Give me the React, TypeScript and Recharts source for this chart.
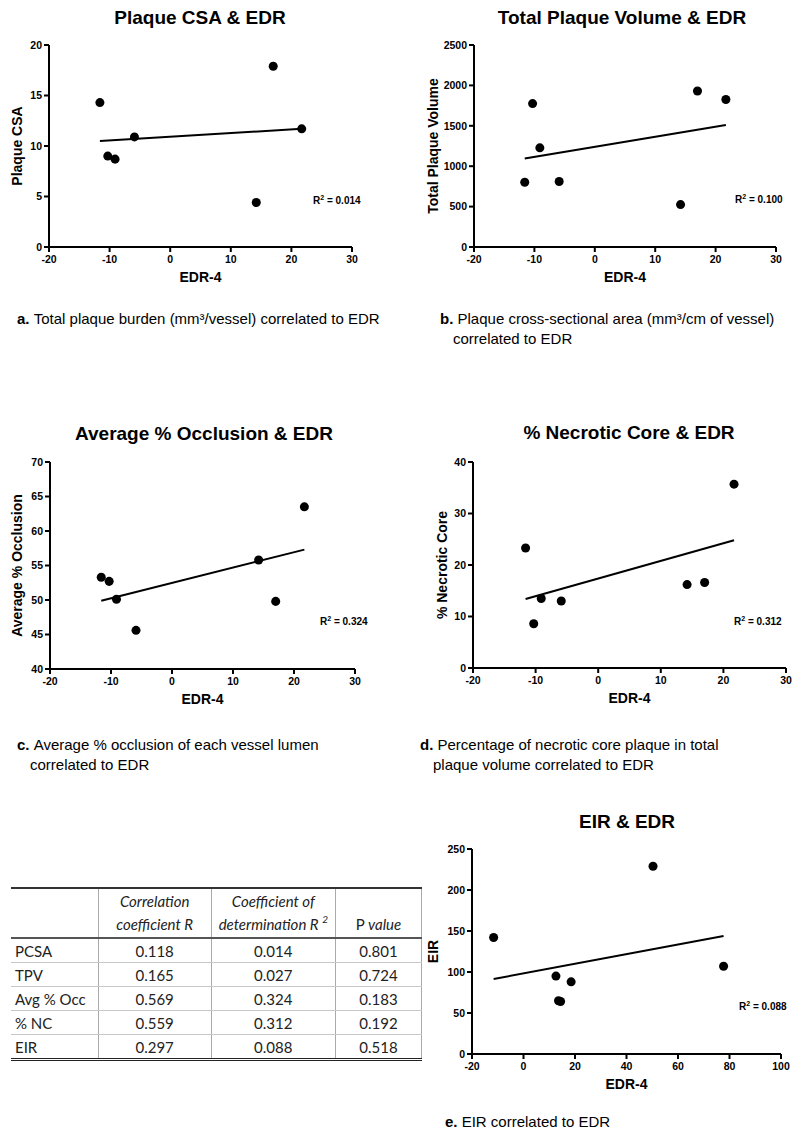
import { ScatterChart, Scatter, XAxis, YAxis } from 'recharts';

// EDR-4 values shared by panels a-d
const edr4 = [-11.6, -10.3, -9.1, -5.9, 14.2, 17.0, 21.7];
const plaqueCsa = [14.3, 9.0, 8.7, 10.9, 4.4, 17.9, 11.7];
const totalPlaqueVolume = [802, 1775, 1227, 810, 525, 1930, 1826];
const avgOcclusion = [53.3, 52.7, 50.1, 45.6, 55.8, 49.8, 63.5];
const necroticCore = [23.3, 8.6, 13.5, 13.0, 16.2, 16.6, 35.7];

// panel e has its own EDR-4 set
const edr4E = [-11.6, 12.6, 13.6, 14.4, 18.5, 50.3, 77.7];
const eir = [142, 95, 65, 64, 88, 229, 107];

// regression line end points (x, y)
const trendCsa = [[-11.6, 10.5], [21.7, 11.7]];
const trendTpv = [[-11.6, 1095], [21.7, 1510]];
const trendOcc = [[-11.6, 49.9], [21.7, 57.3]];
const trendNc = [[-11.6, 13.4], [21.7, 24.8]];
const trendEir = [[-11.6, 91.5], [77.7, 144]];

const edrTicks = [-20, -10, 0, 10, 20, 30];
const edrTicksE = [-20, 0, 20, 40, 60, 80, 100];
const csaTicks = [0, 5, 10, 15, 20];
const tpvTicks = [0, 500, 1000, 1500, 2000, 2500];
const occTicks = [40, 45, 50, 55, 60, 65, 70];
const ncTicks = [0, 10, 20, 30, 40];
const eirTicks = [0, 50, 100, 150, 200, 250];

// table
const rowNames = ['PCSA', 'TPV', 'Avg % Occ', '% NC', 'EIR'];
const corrR = ['0.118', '0.165', '0.569', '0.559', '0.297'];
const detR2 = ['0.014', '0.027', '0.324', '0.312', '0.088'];
const pValues = ['0.801', '0.724', '0.183', '0.192', '0.518'];

const ARIAL = '"Liberation Sans", Arial, sans-serif';

const zip = (xs: number[], ys: number[]) => xs.map((x, i) => ({ x, y: ys[i] }));
const toPts = (t: number[][]) => t.map(([x, y]) => ({ x, y }));

type PanelProps = {
  left: number;
  top: number;
  height: number;
  plot: [number, number, number, number]; // x0, x1, y0, y1 in page px
  xDomain: [number, number];
  xTicks: number[];
  yDomain: [number, number];
  yTicks: number[];
  points: { x: number; y: number }[];
  trend: { x: number; y: number }[];
  title: string;
  titleCx: number;
  titleCy: number;
  yLabel: string;
  yLabelX: number;
  r2: string;
  r2Left: number;
  r2Cy: number;
};

function Panel(p: PanelProps) {
  const [x0, x1, y0, y1] = p.plot;
  const yAxisW = x0 - p.left;
  const margin = {
    top: y0 - p.top,
    right: p.left + 400 - x1,
    left: 0,
    bottom: p.top + p.height - y1 - 40,
  };
  const tickStyle = { fill: '#000', fontSize: 10.5, fontWeight: 'bold' as const, fontFamily: ARIAL };
  const labelStyle = { fill: '#000', fontSize: 14, fontWeight: 'bold' as const, fontFamily: ARIAL };
  return (
    <>
      <div
        style={{
          position: 'absolute',
          left: p.titleCx - 200,
          top: p.titleCy - 11,
          width: 400,
          height: 22,
          lineHeight: '22px',
          textAlign: 'center',
          fontFamily: ARIAL,
          fontWeight: 'bold',
          fontSize: 19,
          color: '#000',
        }}
      >
        {p.title}
      </div>
      <div style={{ position: 'absolute', left: p.left, top: p.top }}>
        <ScatterChart width={400} height={p.height} margin={margin}>
          <XAxis
            type="number"
            dataKey="x"
            domain={p.xDomain}
            ticks={p.xTicks}
            allowDataOverflow
            height={40}
            axisLine={{ stroke: '#000', strokeWidth: 2 }}
            tickLine={{ stroke: '#000', strokeWidth: 2 }}
            tickSize={5}
            tickMargin={4}
            tick={tickStyle}
            label={{ value: 'EDR-4', position: 'insideBottom', offset: 5, style: labelStyle }}
          />
          <YAxis
            type="number"
            dataKey="y"
            domain={p.yDomain}
            ticks={p.yTicks}
            allowDataOverflow
            width={yAxisW}
            axisLine={{ stroke: '#000', strokeWidth: 2 }}
            tickLine={{ stroke: '#000', strokeWidth: 2 }}
            tickSize={5}
            tick={tickStyle}
            label={{
              value: p.yLabel,
              angle: -90,
              position: 'insideLeft',
              offset: p.yLabelX - p.left,
              style: { ...labelStyle, textAnchor: 'middle' },
            }}
          />
          <Scatter
            data={p.trend}
            line={{ stroke: '#000', strokeWidth: 2 }}
            shape={() => <g />}
            isAnimationActive={false}
          />
          <Scatter data={p.points} fill="#000" isAnimationActive={false} />
        </ScatterChart>
      </div>
      <div
        style={{
          position: 'absolute',
          left: p.r2Left,
          top: p.r2Cy - 7,
          height: 14,
          lineHeight: '14px',
          fontFamily: ARIAL,
          fontWeight: 'bold',
          fontSize: 10,
          whiteSpace: 'nowrap',
          color: '#000',
        }}
      >
        R<sup style={{ fontSize: 7, verticalAlign: 'top', lineHeight: '8px' }}>2</sup> = {p.r2}
      </div>
    </>
  );
}

function Caption({ left, top, letter, lines }: { left: number; top: number; letter: string; lines: string[] }) {
  return (
    <div
      style={{
        position: 'absolute',
        left,
        top,
        fontFamily: ARIAL,
        fontSize: 15,
        lineHeight: '20px',
        color: '#000',
        whiteSpace: 'nowrap',
      }}
    >
      {lines.map((l, i) => (
        <div key={i} style={{ paddingLeft: i === 0 ? 0 : 13 }}>
          {i === 0 && <b>{letter}. </b>}
          {l}
        </div>
      ))}
    </div>
  );
}

function StatsTable() {
  const font = 'Lato, "Open Sans", sans-serif';
  const vline = '1px solid #aaa';
  const hline = '1px solid #c8c8c8';
  const cell = (extra: React.CSSProperties = {}): React.CSSProperties => ({
    padding: 0,
    height: 23,
    textAlign: 'center',
    borderBottom: hline,
    borderLeft: vline,
    ...extra,
  });
  return (
    <table
      style={{
        position: 'absolute',
        left: 11,
        top: 887,
        width: 411,
        borderCollapse: 'collapse',
        tableLayout: 'fixed',
        fontFamily: font,
        fontSize: 15,
        color: '#222',
        borderTop: '2px solid #333',
        borderBottom: '3px double #222',
        borderRight: vline,
      }}
    >
      <colgroup>
        <col style={{ width: 87 }} />
        <col style={{ width: 113 }} />
        <col style={{ width: 124 }} />
        <col style={{ width: 86 }} />
      </colgroup>
      <thead>
        <tr style={{ height: 49 }}>
          <th style={{ borderBottom: '2px solid #555' }} />
          <th style={{ fontWeight: 'normal', fontStyle: 'italic', lineHeight: '23px', borderLeft: vline, borderBottom: '2px solid #555', verticalAlign: 'bottom' }}>
            Correlation
            <br />
            coefficient R
          </th>
          <th style={{ fontWeight: 'normal', fontStyle: 'italic', lineHeight: '23px', borderLeft: vline, borderBottom: '2px solid #555', verticalAlign: 'bottom' }}>
            Coefficient of
            <br />
            determination R <sup style={{ fontSize: 10, verticalAlign: 'top', lineHeight: '12px' }}>2</sup>
          </th>
          <th style={{ fontWeight: 'normal', lineHeight: '23px', borderLeft: vline, borderBottom: '2px solid #555', verticalAlign: 'bottom' }}>
            P <i>value</i>
          </th>
        </tr>
      </thead>
      <tbody>
        {rowNames.map((name, i) => (
          <tr key={name}>
            <td style={{ ...cell({ borderLeft: 'none' }), textAlign: 'left', paddingLeft: 4 }}>{name}</td>
            <td style={cell()}>{corrR[i]}</td>
            <td style={cell()}>{detR2[i]}</td>
            <td style={cell()}>{pValues[i]}</td>
          </tr>
        ))}
      </tbody>
    </table>
  );
}

export default function App() {
  return (
    <div style={{ position: 'absolute', left: 0, top: 0, width: 801, height: 1134, background: '#fff', overflow: 'hidden' }}>
      <Panel
        left={0}
        top={0}
        height={300}
        plot={[49, 352, 45, 247]}
        xDomain={[-20, 30]}
        xTicks={edrTicks}
        yDomain={[0, 20]}
        yTicks={csaTicks}
        points={zip(edr4, plaqueCsa)}
        trend={toPts(trendCsa)}
        title="Plaque CSA & EDR"
        titleCx={200}
        titleCy={18}
        yLabel="Plaque CSA"
        yLabelX={17}
        r2="0.014"
        r2Left={313}
        r2Cy={201}
      />
      <Panel
        left={400}
        top={0}
        height={300}
        plot={[474, 776, 45, 247]}
        xDomain={[-20, 30]}
        xTicks={edrTicks}
        yDomain={[0, 2500]}
        yTicks={tpvTicks}
        points={zip(edr4, totalPlaqueVolume)}
        trend={toPts(trendTpv)}
        title="Total Plaque Volume & EDR"
        titleCx={622}
        titleCy={18}
        yLabel="Total Plaque Volume"
        yLabelX={433}
        r2="0.100"
        r2Left={735}
        r2Cy={200}
      />
      <Panel
        left={0}
        top={400}
        height={320}
        plot={[50, 355, 462, 669]}
        xDomain={[-20, 30]}
        xTicks={edrTicks}
        yDomain={[40, 70]}
        yTicks={occTicks}
        points={zip(edr4, avgOcclusion)}
        trend={toPts(trendOcc)}
        title="Average % Occlusion & EDR"
        titleCx={204}
        titleCy={434}
        yLabel="Average % Occlusion"
        yLabelX={17}
        r2="0.324"
        r2Left={320}
        r2Cy={622}
      />
      <Panel
        left={400}
        top={400}
        height={320}
        plot={[473, 786, 462, 668]}
        xDomain={[-20, 30]}
        xTicks={edrTicks}
        yDomain={[0, 40]}
        yTicks={ncTicks}
        points={zip(edr4, necroticCore)}
        trend={toPts(trendNc)}
        title="% Necrotic Core & EDR"
        titleCx={629}
        titleCy={433}
        yLabel="% Necrotic Core"
        yLabelX={442}
        r2="0.312"
        r2Left={734}
        r2Cy={622}
      />
      <Panel
        left={400}
        top={800}
        height={300}
        plot={[472, 781, 849, 1054]}
        xDomain={[-20, 100]}
        xTicks={edrTicksE}
        yDomain={[0, 250]}
        yTicks={eirTicks}
        points={zip(edr4E, eir)}
        trend={toPts(trendEir)}
        title="EIR & EDR"
        titleCx={627}
        titleCy={822}
        yLabel="EIR"
        yLabelX={433}
        r2="0.088"
        r2Left={739}
        r2Cy={1007}
      />

      <Caption left={17} top={309} letter="a" lines={['Total plaque burden (mm³/vessel) correlated to EDR']} />
      <Caption left={440} top={309} letter="b" lines={['Plaque cross-sectional area (mm³/cm of vessel)', 'correlated to EDR']} />
      <Caption left={17} top={735} letter="c" lines={['Average % occlusion of each vessel lumen', 'correlated to EDR']} />
      <Caption left={420} top={735} letter="d" lines={['Percentage of necrotic core plaque in total', 'plaque volume correlated to EDR']} />
      <Caption left={445} top={1112} letter="e" lines={['EIR correlated to EDR']} />

      <StatsTable />
    </div>
  );
}
